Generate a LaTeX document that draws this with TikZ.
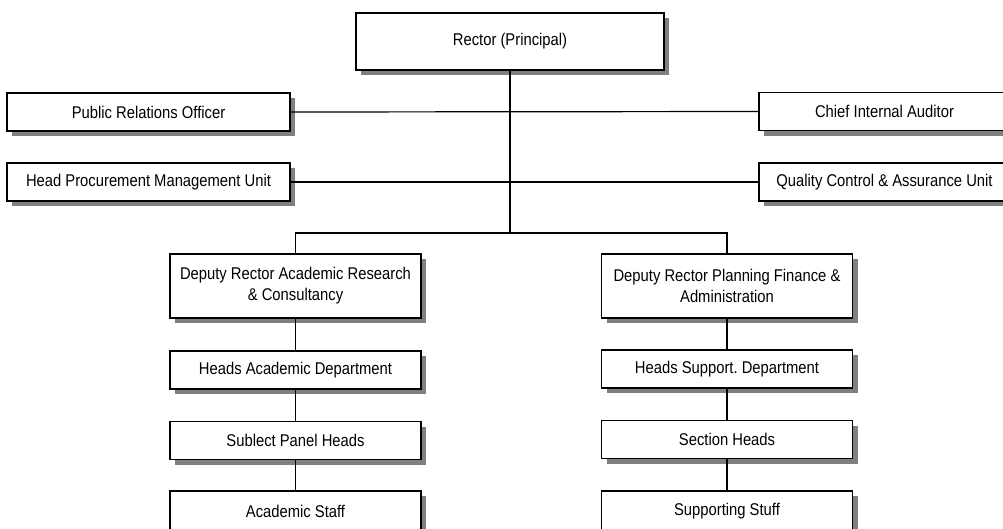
\documentclass[tikz,border=0pt]{standalone}
\usepackage{fontspec}
\setmainfont[FakeStretch=0.87]{Liberation Sans}
\usetikzlibrary{shadows}
\frenchspacing
\begin{document}
\begin{tikzpicture}[x=1pt,y=-1pt,
  orgbox/.style={draw=black, line width=1.2pt, fill=white, inner sep=2pt,
    align=center, font=\fontsize{17}{21}\selectfont,
    drop shadow={shadow xshift=5pt, shadow yshift=-5pt, opacity=1, fill=black!50}},
  link/.style={draw=black, line width=1.2pt}]
\path[use as bounding box] (0,0) rectangle (1003,528);
\clip (0,0) rectangle (1003,528);

% top level
\node[orgbox, minimum width=308pt, minimum height=57pt] (rector) at (510,41.5) {Rector (Principal)};

% staff units on either side
\node[orgbox, minimum width=283pt, minimum height=38pt] (pro) at (148.5,112) {Public Relations Officer};
\node[orgbox, minimum width=283pt, minimum height=38pt] (hpmu) at (148.5,182) {Head Procurement Management Unit};
\node[orgbox, minimum width=251pt, minimum height=38pt] (cia) at (884.5,111.5) {Chief Internal Auditor};
\node[orgbox, minimum width=251pt, minimum height=38pt] (qcau) at (884.5,182) {Quality Control \& Assurance Unit};

% deputy rectors
\node[orgbox, minimum width=251pt, minimum height=64pt] (dra) at (295.5,286) {Deputy Rector Academic Research\\ \& Consultancy};
\node[orgbox, minimum width=251pt, minimum height=64pt] (drp) at (727,286) {Deputy Rector Planning Finance \&\\ Administration};

% academic branch
\node[orgbox, minimum width=251pt, minimum height=38pt] (had) at (295.5,370) {Heads Academic Department};
\node[orgbox, minimum width=251pt, minimum height=38pt] (sph) at (295.5,440.5) {Sublect Panel Heads};
\node[orgbox, minimum width=251pt, minimum height=40pt] (ast) at (295.5,511) {Academic Staff};

% support branch
\node[orgbox, minimum width=251pt, minimum height=38pt] (hsd) at (727,369) {Heads Support. Department};
\node[orgbox, minimum width=251pt, minimum height=38pt] (sh) at (727,439.5) {Section Heads};
\node[orgbox, minimum width=251pt, minimum height=40pt] (sst) at (727,511) {Supporting Stuff};

% connectors
\coordinate (br) at (510,233);
\draw[link] (rector.south) -- (br);
\draw[link] (pro.east) -- (cia.west);
\draw[link] (hpmu.east) -- (qcau.west);
\draw[link] (dra.north) |- (br) -| (drp.north);
\draw[link] (dra.south) -- (had.north);
\draw[link] (had.south) -- (sph.north);
\draw[link] (sph.south) -- (ast.north);
\draw[link] (drp.south) -- (hsd.north);
\draw[link] (hsd.south) -- (sh.north);
\draw[link] (sh.south) -- (sst.north);
\end{tikzpicture}
\end{document}
